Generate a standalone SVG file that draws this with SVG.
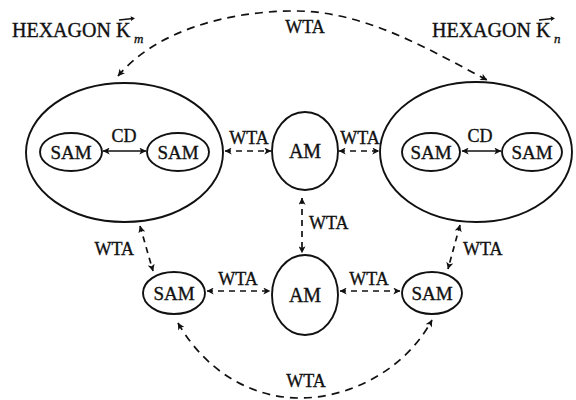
<svg xmlns="http://www.w3.org/2000/svg" width="576" height="400" viewBox="0 0 576 400">
<style>
.n{fill:none;stroke:#111;stroke-width:1.9}
.t{font-family:"Liberation Serif","Times New Roman",serif;fill:#111;stroke:#111;stroke-width:0.35;text-anchor:middle}
.lab{font-family:"Liberation Serif","Times New Roman",serif;fill:#111;stroke:#111;stroke-width:0.35;font-size:18px}
.c{fill:none;stroke:#111;stroke-width:1.7}
.d{stroke-dasharray:6 5}
.dl{stroke-dasharray:8 6}
</style>
<defs>
<marker id="ah" viewBox="0 0 10 10" refX="9.5" refY="5" markerWidth="8" markerHeight="7" markerUnits="userSpaceOnUse" orient="auto-start-reverse">
<path d="M0,0 L10,5 L0,10 L2.5,5 z" fill="#111"/>
</marker>
</defs>
<rect width="576" height="400" fill="#fff"/>

<g id="label-hex-m">
<text class="lab" x="12" y="37" style="font-size:20px;text-anchor:start">HEXAGON K</text>
<text class="lab" x="134" y="43" style="font-size:13px;font-style:italic">m</text>
<line x1="119" y1="20" x2="133" y2="18.5" stroke="#111" stroke-width="1.3"/>
<path d="M135,18.3 L130.5,16.2 L131.2,18.8 L131,21 z" fill="#111"/>
</g>
<g id="label-hex-n">
<text class="lab" x="432" y="37" style="font-size:20px;text-anchor:start">HEXAGON K</text>
<text class="lab" x="554" y="43" style="font-size:13px;font-style:italic">n</text>
<line x1="539" y1="20" x2="553" y2="18.5" stroke="#111" stroke-width="1.3"/>
<path d="M555,18.3 L550.5,16.2 L551.2,18.8 L551,21 z" fill="#111"/>
</g>

<g id="hex-m">
<ellipse class="n" cx="124.5" cy="152.5" rx="98.5" ry="69.5"/>
<g id="sam-m1"><ellipse class="n" cx="71" cy="152" rx="31" ry="19"/><text class="t" x="71" y="159" font-size="19">SAM</text></g>
<g id="sam-m2"><ellipse class="n" cx="178" cy="152" rx="31" ry="19"/><text class="t" x="178" y="159" font-size="19">SAM</text></g>
</g>
<g id="hex-n">
<ellipse class="n" cx="476" cy="152" rx="96" ry="70"/>
<g id="sam-n1"><ellipse class="n" cx="431" cy="152" rx="29" ry="19"/><text class="t" x="431" y="159" font-size="19">SAM</text></g>
<g id="sam-n2"><ellipse class="n" cx="532" cy="152" rx="30" ry="19"/><text class="t" x="532" y="159" font-size="19">SAM</text></g>
</g>
<g id="am-top"><ellipse class="n" cx="305" cy="151" rx="33" ry="39"/><text class="t" x="305" y="158" font-size="20">AM</text></g>
<g id="am-bottom"><ellipse class="n" cx="305" cy="295" rx="33" ry="40"/><text class="t" x="305" y="302" font-size="20">AM</text></g>
<g id="sam-left"><ellipse class="n" cx="174" cy="293" rx="31" ry="21"/><text class="t" x="174" y="300" font-size="19">SAM</text></g>
<g id="sam-right"><ellipse class="n" cx="432" cy="293" rx="30" ry="21"/><text class="t" x="432" y="300" font-size="19">SAM</text></g>

<g id="connectors">
<path class="c dl" d="M118,76 C155,32 225,11 295,11 C365,11 430,50 487,80" marker-start="url(#ah)" marker-end="url(#ah)"/>
<path class="c dl" d="M178,323 C205,370 250,398 300,398 C350,398 405,370 432,320" marker-start="url(#ah)" marker-end="url(#ah)"/>
<line class="c" x1="103" y1="151" x2="146" y2="151" marker-start="url(#ah)" marker-end="url(#ah)"/>
<line class="c" x1="462" y1="151" x2="501" y2="151" marker-start="url(#ah)" marker-end="url(#ah)"/>
<line class="c d" x1="225" y1="151" x2="271" y2="151" marker-start="url(#ah)" marker-end="url(#ah)"/>
<line class="c d" x1="339" y1="151" x2="379" y2="151" marker-start="url(#ah)" marker-end="url(#ah)"/>
<line class="c d" x1="302" y1="198" x2="302" y2="253" marker-start="url(#ah)" marker-end="url(#ah)"/>
<line class="c d" x1="140" y1="226" x2="153" y2="271" marker-start="url(#ah)" marker-end="url(#ah)"/>
<line class="c d" x1="460" y1="225" x2="448" y2="269" marker-start="url(#ah)" marker-end="url(#ah)"/>
<line class="c d" x1="207" y1="291" x2="270" y2="291" marker-start="url(#ah)" marker-end="url(#ah)"/>
<line class="c d" x1="340" y1="291" x2="400" y2="291" marker-start="url(#ah)" marker-end="url(#ah)"/>
<text class="t" x="305" y="33" font-size="18">WTA</text>
<text class="t" x="124" y="142" font-size="18">CD</text>
<text class="t" x="480" y="142" font-size="18">CD</text>
<text class="t" x="249" y="144" font-size="18">WTA</text>
<text class="t" x="360" y="144" font-size="18">WTA</text>
<text class="lab" x="309" y="229">WTA</text>
<text class="lab" x="134" y="255" style="text-anchor:end">WTA</text>
<text class="lab" x="463" y="255">WTA</text>
<text class="t" x="238" y="285" font-size="18">WTA</text>
<text class="t" x="369" y="285" font-size="18">WTA</text>
<text class="t" x="306" y="387" font-size="18">WTA</text>
</g>
</svg>
